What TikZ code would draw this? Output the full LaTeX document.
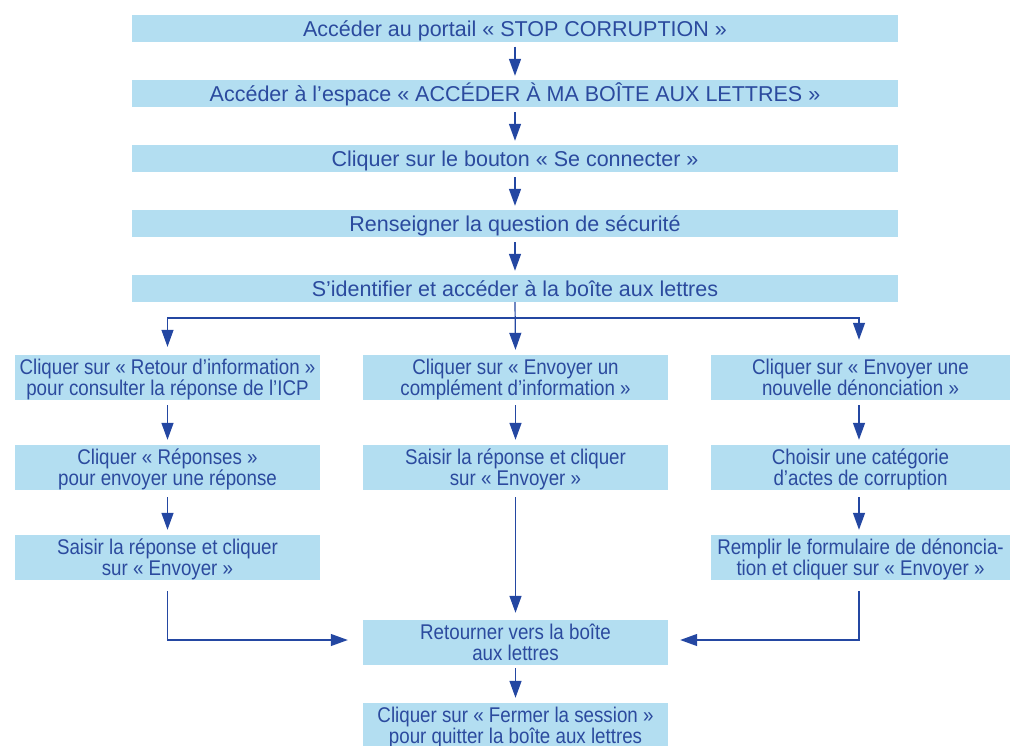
\documentclass[tikz,border=0pt]{standalone}
\usepackage{fontspec}
\setmainfont{Liberation Sans}
\newfontfamily\narrowfont[FakeStretch=0.88]{Liberation Sans}
\usetikzlibrary{arrows.meta}
\definecolor{boxfill}{HTML}{B3DEF1}
\definecolor{txtblue}{HTML}{2B4A9E}
\definecolor{arrblue}{HTML}{2447A2}
\tikzset{
  topbox/.style={rectangle, fill=boxfill, inner sep=0pt, minimum width=766pt, minimum height=27pt,
    text=txtblue, font=\fontsize{21.5}{22}\selectfont, align=center, text height=16pt, text depth=0pt},
  colbox/.style={rectangle, fill=boxfill, inner sep=0pt, minimum width=305pt, minimum height=45pt,
    text=txtblue, font=\narrowfont\fontsize{21.3}{20.5}\selectfont, align=center, text height=35.5pt, text depth=0pt},
  arr/.style={draw=arrblue, line width=1.4pt, -{Triangle[length=17pt,width=12pt]}},
  brarr/.style={draw=arrblue, line width=1.2pt, -{Triangle[length=17pt,width=12pt]}},
}
\begin{document}
\begin{tikzpicture}[x=1pt,y=-1pt]
\useasboundingbox (0,0) rectangle (1010,745);
% top column
\node[topbox] (b1) at (515,28) {Accéder au portail « STOP CORRUPTION »};
\node[topbox] (b2) at (515,93.5) {Accéder à l’espace « ACCÉDER À MA BOÎTE AUX LETTRES »};
\node[topbox] (b3) at (515,158.5) {Cliquer sur le bouton « Se connecter »};
\node[topbox] (b4) at (515,223.5) {Renseigner la question de sécurité};
\node[topbox] (b5) at (515,288.5) {S’identifier et accéder à la boîte aux lettres};
% left column
\node[colbox] (l1) at (167.5,377.5) {Cliquer sur « Retour d’information »\\pour consulter la réponse de l’ICP};
\node[colbox] (l2) at (167.5,467.5) {Cliquer « Réponses »\\pour envoyer une réponse};
\node[colbox] (l3) at (167.5,557.5) {Saisir la réponse et cliquer\\sur « Envoyer »};
% middle column
\node[colbox] (m1) at (515.5,377.5) {Cliquer sur « Envoyer un\\complément d’information »};
\node[colbox] (m2) at (515.5,467.5) {Saisir la réponse et cliquer\\sur « Envoyer »};
\node[colbox] (ret) at (515.5,642.5) {Retourner vers la boîte\\aux lettres};
\node[colbox] (fer) at (515.5,725.5) {Cliquer sur « Fermer la session »\\pour quitter la boîte aux lettres};
% right column
\node[colbox, minimum width=299pt] (r1) at (860.5,377.5) {Cliquer sur « Envoyer une\\nouvelle dénonciation »};
\node[colbox, minimum width=299pt] (r2) at (860.5,467.5) {Choisir une catégorie\\d’actes de corruption};
\node[colbox, minimum width=299pt] (r3) at (860.5,557.5) {Remplir le formulaire de dénoncia-\\tion et cliquer sur « Envoyer »};
% top arrows
\draw[arr] ([yshift=-5pt]b1.south) -- ([yshift=4pt]b2.north);
\draw[arr] ([yshift=-5pt]b2.south) -- ([yshift=4pt]b3.north);
\draw[arr] ([yshift=-5pt]b3.south) -- ([yshift=4pt]b4.north);
\draw[arr] ([yshift=-5pt]b4.south) -- ([yshift=4pt]b5.north);
% branch
\coordinate (j) at (515,318);
\draw[brarr] (b5.south) -- ([yshift=5pt]m1.north);
\draw[brarr] (j) -| ([yshift=8pt]l1.north);
\draw[brarr] (j) -| ([xshift=-1.5pt,yshift=15pt]r1.north);
% column arrows
\draw[arr] ([yshift=-5pt]l1.south) -- ([yshift=5pt]l2.north);
\draw[arr] ([yshift=-7pt]l2.south) -- ([yshift=5pt]l3.north);
\draw[arr] ([yshift=-5pt]m1.south) -- ([yshift=5pt]m2.north);
\draw[arr] ([yshift=-7pt]m2.south) -- ([yshift=7pt]ret.north);
\draw[arr] ([xshift=-1.5pt,yshift=-5pt]r1.south) -- ([xshift=-1.5pt,yshift=5pt]r2.north);
\draw[arr] ([xshift=-1.5pt,yshift=-7pt]r2.south) -- ([xshift=-1.5pt,yshift=5pt]r3.north);
% merge arrows
\draw[brarr] ([yshift=-11pt]l3.south) |- ([xshift=-15pt,yshift=2.5pt]ret.west);
\draw[brarr] ([xshift=-1.5pt,yshift=-11pt]r3.south) |- ([xshift=12pt,yshift=2.5pt]ret.east);
\draw[arr] ([yshift=-3pt]ret.south) -- ([yshift=5pt]fer.north);
\end{tikzpicture}
\end{document}
